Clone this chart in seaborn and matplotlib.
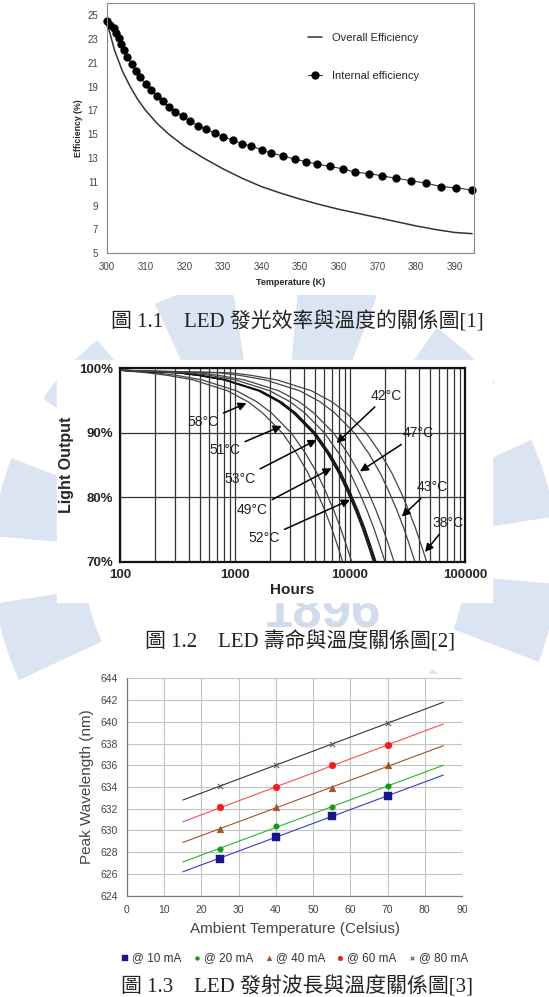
import matplotlib
matplotlib.use("Agg")
import matplotlib.pyplot as plt
import seaborn as sns
from matplotlib.patches import Rectangle, Wedge
from matplotlib.ticker import NullFormatter

sns.set_style("white")
plt.rcParams['font.family'] = ['Liberation Sans', 'DejaVu Sans']

# ---- Fig 1.1: efficiency vs temperature ----
overall_T = [300, 302, 304, 306, 308, 310, 313, 316, 320, 325, 330, 335, 340, 345,
             350, 355, 360, 365, 370, 375, 380, 385, 390, 394.5]
overall_eff = [24.4, 22.0, 20.3, 19.0, 17.9, 17.0, 15.9, 15.0, 14.0, 13.0, 12.1, 11.3,
               10.6, 10.05, 9.55, 9.1, 8.7, 8.35, 8.0, 7.65, 7.3, 7.0, 6.75, 6.65]
internal_T = [300.0, 300.9, 301.7, 302.3, 303.0, 303.6, 304.3, 305.3, 306.4, 307.4,
              308.6, 310.0, 311.4, 312.9, 314.5, 316.0, 317.7, 319.6, 321.5, 323.6,
              325.7, 327.9, 330.1, 332.6, 335.0, 337.4, 340.0, 342.5, 345.5, 348.6,
              351.5, 354.4, 357.7, 361.0, 364.3, 367.9, 371.3, 374.9, 378.7, 382.5,
              386.5, 390.4, 394.6]
internal_eff = [24.5, 24.2, 23.9, 23.5, 23.1, 22.6, 22.1, 21.5, 20.9, 20.3,
                19.8, 19.2, 18.7, 18.2, 17.8, 17.3, 16.9, 16.5, 16.1, 15.7,
                15.4, 15.1, 14.8, 14.5, 14.2, 14.0, 13.7, 13.4, 13.2, 12.9,
                12.7, 12.5, 12.3, 12.1, 11.8, 11.7, 11.5, 11.3, 11.1, 10.9,
                10.6, 10.5, 10.3]

# ---- Fig 1.2: lifetime curves (hours where each curve reaches the output levels) ----
curve_pct = [99.7, 99.3, 98.9, 98.2, 96.5, 94.8, 93.1, 89.9, 86.7, 83.7, 80.7, 77.9, 75.2, 72.5, 70.0]
h58 = [100, 173, 260, 433, 865, 1300, 1730, 2600, 3460, 4330, 5190, 6060, 6920, 7790, 8650]
h51 = [100, 207, 311, 518, 1035, 1550, 2070, 3110, 4140, 5180, 6210, 7250, 8280, 9320, 10350]
h53 = [100, 320, 480, 800, 1600, 2400, 3200, 4800, 6400, 8000, 9600, 11200, 12800, 14400, 16000]
h49 = [100, 328, 492, 820, 1640, 2460, 3280, 4920, 6560, 8200, 9840, 11480, 13120, 14760, 16400]
h52 = [100, 336, 504, 840, 1680, 2520, 3360, 5040, 6720, 8400, 10080, 11760, 13440, 15120, 16800]
h42 = [100, 403, 605, 1010, 2015, 3020, 4030, 6050, 8060, 10080, 12090, 14100, 16120, 18140, 20150]
h47 = [100, 483, 725, 1210, 2415, 3620, 4830, 7250, 9660, 12080, 14490, 16900, 19320, 21740, 24150]
h43 = [100, 734, 1100, 1835, 3670, 5500, 7340, 11010, 14680, 18350, 22020, 25690, 29360, 33030, 36700]
h38 = [100, 928, 1390, 2320, 4640, 6960, 9280, 13920, 18560, 23200, 27840, 32480, 37120, 41760, 46400]

label_names = ['58°C', '51°C', '53°C', '49°C', '52°C', '42°C', '47°C', '43°C', '38°C']
label_text_h = [530, 818, 1105, 1414, 1798, 20840, 39260, 52360, 71620]
label_text_pct = [91.7, 87.3, 82.8, 78.0, 73.6, 95.75, 89.9, 81.55, 76.0]
label_tip_h = [1260, 2545, 5130, 6920, 10000, 7650, 12200, 28200, 44900]
label_tip_pct = [94.6, 91.05, 88.9, 84.5, 79.6, 88.4, 84.0, 77.0, 71.5]

# ---- Fig 1.3: peak wavelength vs ambient temperature ----
temps = [25, 40, 55, 70]
wl_10 = [627.4, 629.4, 631.3, 633.2]
wl_20 = [628.3, 630.4, 632.2, 634.1]
wl_40 = [630.1, 632.2, 633.9, 636.0]
wl_60 = [632.2, 634.0, 636.0, 637.9]
wl_80 = [634.1, 636.0, 638.0, 639.9]
trend_T = [15, 85]
trend_10 = [626.2, 635.1]
trend_20 = [627.1, 636.0]
trend_40 = [628.9, 637.8]
trend_60 = [630.8, 639.8]
trend_80 = [632.8, 641.8]
series_labels = ['@ 10 mA', '@ 20 mA', '@ 40 mA', '@ 60 mA', '@ 80 mA']

W, H = 549, 997
fig = plt.figure(figsize=(W / 100, H / 100), dpi=100)


def box(l, t, r, b):
    return [l / W, 1 - b / H, (r - l) / W, (b - t) / H]


# background watermark (school logo, light blue)
wm = fig.add_axes([0, 0, 1, 1], zorder=0)
wm.set_xlim(0, W); wm.set_ylim(H, 0); wm.axis('off')
clip = Rectangle((0, 295), W, 410, transform=wm.transData, visible=False)
wm.add_patch(clip)
for a in range(5, 365, 30):
    w = Wedge((275, 560), 282, a, a + 16, width=90, color='#dbe4f2', zorder=1)
    wm.add_patch(w); w.set_clip_path(clip)
wm.text(322, 627, '1896', fontsize=38, fontweight='bold', color='#d0dbec',
        ha='center', va='baseline', zorder=2)
wm.add_patch(Rectangle((57, 360), 435, 242, color='white', zorder=5))
wm.add_patch(Rectangle((84, 674), 398, 323, color='white', zorder=5))

cap_font = ['Liberation Serif', 'Noto Sans CJK TC']
fig.text(297 / W, 1 - 322 / H, '圖 1.1　LED 發光效率與溫度的關係圖[1]', family=cap_font,
         fontsize=15, ha='center', va='center', color='#222', zorder=10)
fig.text(300 / W, 1 - 642 / H, '圖 1.2　LED 壽命與溫度關係圖[2]', family=cap_font,
         fontsize=15, ha='center', va='center', color='#222', zorder=10)
fig.text(297 / W, 1 - 987 / H, '圖 1.3　LED 發射波長與溫度關係圖[3]', family=cap_font,
         fontsize=15, ha='center', va='center', color='#222', zorder=10)

# ---------------- chart 1 ----------------
ax1 = fig.add_axes(box(107, 3.3, 474, 253.3), zorder=3)
sns.lineplot(x=overall_T, y=overall_eff, ax=ax1, color='#333333', lw=1.1,
             label='Overall Efficiency')
sns.lineplot(x=internal_T, y=internal_eff, ax=ax1, color='#333333', lw=0.8, marker='o',
             markersize=5.2, markerfacecolor='black', markeredgecolor='black',
             label='Internal efficiency', clip_on=False)
ax1.set_xlim(300, 395); ax1.set_ylim(5, 26)
ax1.set_xticks(range(300, 400, 10)); ax1.set_yticks(range(5, 26, 2))
ax1.tick_params(labelsize=7, colors='#444', length=3, width=0.6)
for s in ax1.spines.values():
    s.set_color('#888'); s.set_linewidth(0.8)
ax1.set_xlabel('Temperature (K)', fontsize=6.5, fontweight='bold', labelpad=4)
ax1.set_ylabel('Efficiency (%)', fontsize=6.3, fontweight='bold', labelpad=3)
ax1.legend(loc='upper left', bbox_to_anchor=(0.52, 0.92), frameon=False, fontsize=8,
           handlelength=1.3, handletextpad=0.9, labelspacing=2.5)

# ---------------- chart 2 ----------------
ax2 = fig.add_axes(box(120, 368.3, 465, 561.7), zorder=6)
ax2.set_xscale('log')
for hrs, lw, col in [(h58, 0.9, '#444'), (h51, 0.9, '#444'), (h53, 1.0, '#111'),
                     (h49, 1.0, '#111'), (h52, 1.0, '#111'), (h42, 0.9, '#444'),
                     (h47, 0.9, '#444'), (h43, 0.9, '#444'), (h38, 0.9, '#444')]:
    sns.lineplot(x=hrs, y=curve_pct, ax=ax2, color=col, lw=lw, sort=False, estimator=None)
ax2.set_xlim(100, 100000); ax2.set_ylim(70, 100)
ax2.set_xticks([100, 1000, 10000, 100000])
ax2.set_xticklabels(['100', '1000', '10000', '100000'])
ax2.xaxis.set_minor_formatter(NullFormatter())
ax2.set_yticks([70, 80, 90, 100])
ax2.set_yticklabels(['70%', '80%', '90%', '100%'])
ax2.grid(True, which='both', axis='x', color='#333', lw=0.9)
ax2.grid(True, which='major', axis='y', color='#333', lw=0.9)
ax2.tick_params(which='both', length=0, labelsize=9.5, pad=5)
for t in ax2.get_xticklabels() + ax2.get_yticklabels():
    t.set_fontweight('bold')
for s in ax2.spines.values():
    s.set_color('#111'); s.set_linewidth(1.6)
ax2.set_xlabel('Hours', fontsize=11, fontweight='bold', labelpad=2)
ax2.set_ylabel('Light Output', fontsize=11.5, fontweight='bold', labelpad=4)
for name, tx, ty, hx, hy in zip(label_names, label_text_h, label_text_pct, label_tip_h, label_tip_pct):
    ax2.annotate(name, xy=(hx, hy), xytext=(tx, ty), fontsize=10, ha='center', va='center',
                 color='#222',
                 arrowprops=dict(arrowstyle='-|>', color='black', lw=1.1, shrinkA=1,
                                 shrinkB=0, mutation_scale=12))

# ---------------- chart 3 ----------------
ax3 = fig.add_axes(box(127, 678.3, 462, 895.7), zorder=6)
styles = [(wl_10, trend_10, 's', '#17178a', '#3a3ad0', 28),
          (wl_20, trend_20, 'o', '#139a13', '#2bb52b', 16),
          (wl_40, trend_40, '^', '#a0522d', '#a0522d', 24),
          (wl_60, trend_60, 'o', '#f01e1e', '#f25050', 24),
          (wl_80, trend_80, 'x', '#555555', '#333333', 14)]
for (wl, tr, mk, col, lcol, sz), lab in zip(styles, series_labels):
    sns.lineplot(x=trend_T, y=tr, ax=ax3, color=lcol, lw=0.8)
    sns.scatterplot(x=temps, y=wl, ax=ax3, marker=mk, color=col, s=sz, label=lab,
                    edgecolor=col if mk != 'x' else None, linewidth=0.8 if mk == 'x' else 0.3,
                    zorder=4)
ax3.set_xlim(0, 90); ax3.set_ylim(624, 644)
ax3.set_xticks(range(0, 91, 10)); ax3.set_yticks(range(624, 645, 2))
ax3.grid(True, color='#c4c4c4', lw=0.8)
ax3.set_axisbelow(True)
ax3.spines['top'].set_visible(False); ax3.spines['right'].set_visible(False)
for s in ['left', 'bottom']:
    ax3.spines[s].set_color('#7a7a7a'); ax3.spines[s].set_linewidth(0.9)
ax3.tick_params(labelsize=7.5, colors='#444', length=3, width=0.7, direction='out')
ax3.set_xlabel('Ambient Temperature (Celsius)', fontsize=11, color='#444', labelpad=5)
ax3.set_ylabel('Peak Wavelength (nm)', fontsize=11, color='#444', labelpad=5)
ax3.legend(loc='center', bbox_to_anchor=(295 / W, 1 - 958 / H), bbox_transform=fig.transFigure,
           ncol=5, frameon=False, fontsize=8.5, handlelength=0.6, handletextpad=0.3,
           columnspacing=1.0, markerscale=0.7)
for t in ax3.get_legend().get_texts():
    t.set_color('#333')

fig.savefig('out.png', dpi=100)
